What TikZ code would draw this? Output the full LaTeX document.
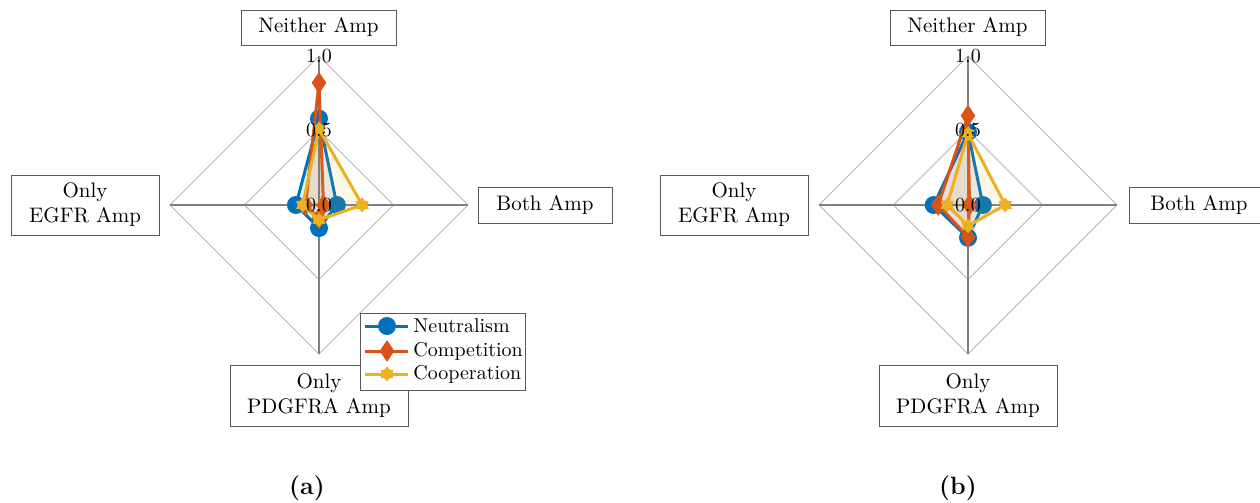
\documentclass[tikz,border=0pt]{standalone}
\usetikzlibrary{shapes.geometric}
\definecolor{mblue}{rgb}{0,0.447,0.741}
\definecolor{morange}{rgb}{0.85,0.325,0.098}
\definecolor{myellow}{rgb}{0.929,0.694,0.125}
\tikzset{
  gridline/.style={draw=black!28, line width=0.5pt},
  axisline/.style={draw=black!50, line width=1pt},
  labelbox/.style={draw=black!65, line width=0.5pt, fill=white, align=center,
    font=\fontsize{10.5}{12.5}\selectfont, inner sep=0pt},
  ticklabel/.style={font=\fontsize{10}{12}\selectfont, inner sep=0pt},
  series/.style={line width=1.5pt, line join=round},
  neutmark/.style={circle, fill=mblue, inner sep=0pt, minimum size=9pt},
  compmark/.style={diamond, fill=morange, inner sep=0pt, minimum width=7.5pt, minimum height=11pt},
  coopmark/.style={star, star points=6, star point ratio=1.5, fill=myellow, inner sep=0pt, minimum size=7.5pt},
  legtext/.style={font=\fontsize{10}{12}\selectfont, inner sep=0pt, anchor=west},
  captext/.style={font=\fontsize{12.5}{14}\selectfont\bfseries, inner sep=0pt},
}
% #1 prefix, #2 colour, #3 marker style, #4 top, #5 right, #6 bottom, #7 left
\newcommand{\radarseries}[7]{%
  \coordinate (#1t) at (0,-149*#4);
  \coordinate (#1r) at (149*#5,0);
  \coordinate (#1b) at (0,149*#6);
  \coordinate (#1l) at (-149*#7,0);
  \fill[#2, fill opacity=0.1] (#1t) -- (#1r) -- (#1b) -- (#1l) -- cycle;
  \draw[series, #2] (#1t) -- (#1r) -- (#1b) -- (#1l) -- cycle;
  \node[#3] (#1mt) at (#1t) {};
  \node[#3] (#1mr) at (#1r) {};
  \node[#3] (#1mb) at (#1b) {};
  \node[#3] (#1ml) at (#1l) {};
}
% #1 prefix
\newcommand{\radargrid}[1]{%
  \coordinate (#1c) at (0,0);
  \coordinate (#1T) at (0,-149);
  \coordinate (#1R) at (149,0);
  \coordinate (#1B) at (0,149);
  \coordinate (#1L) at (-149,0);
  \coordinate (#1Th) at (0,-74.5);
  \coordinate (#1Rh) at (74.5,0);
  \coordinate (#1Bh) at (0,74.5);
  \coordinate (#1Lh) at (-74.5,0);
  \draw[gridline] (#1Th) -- (#1Rh) -- (#1Bh) -- (#1Lh) -- cycle;
  \draw[gridline] (#1T) -- (#1R) -- (#1B) -- (#1L) -- cycle;
  \draw[axisline] (#1c) -- (#1T);
  \draw[axisline] (#1c) -- (#1R);
  \draw[axisline] (#1c) -- (#1B);
  \draw[axisline] (#1c) -- (#1L);
}
\newcommand{\radarticks}[1]{%
  \node[ticklabel] (#1k1) at (#1T) {1.0};
  \node[ticklabel] (#1k5) at (#1Th) {0.5};
  \node[ticklabel] (#1k0) at (#1c) {0.0};
}
% #1 prefix, #2 centre x of right box, #3 its width
\newcommand{\radarlabels}[3]{%
  \node[labelbox, minimum width=77.5pt, minimum height=17.5pt] (#1neither) at (-0.5,-177.5) {Neither Amp};
  \node[labelbox, minimum width=#3, minimum height=18pt] (#1both) at (#2,0) {Both Amp};
  \node[labelbox, minimum width=74pt, minimum height=30pt] (#1egfr) at (-234,0) {Only\\EGFR Amp};
  \node[labelbox, minimum width=89pt, minimum height=30.5pt] (#1pdgfra) at (0,190.5) {Only\\PDGFRA Amp};
}
\begin{document}
\begin{tikzpicture}[x=0.5pt, y=-0.5pt]
\useasboundingbox (0,0) rectangle (1260,503);
\clip (0,0) rectangle (1260,503);
\fill[white] (0,0) rectangle (1260,503);

% ---------------- panel (a)
\begin{scope}[shift={(319,205)}]
  \radargrid{a}
  \radarseries{aN}{mblue}{neutmark}{0.58}{0.12}{0.155}{0.155}
  \radarseries{aC}{morange}{compmark}{0.82}{0.03}{0.09}{0.09}
  \radarseries{aO}{myellow}{coopmark}{0.51}{0.29}{0.10}{0.11}
  \radarticks{a}
  \radarlabels{a}{226}{67pt}
  % legend
  \node[draw=black!65, line width=0.5pt, fill=white, inner sep=0pt,
        minimum width=82.5pt, minimum height=38.5pt] (aleg) at (123.5,146.5) {};
  \coordinate (al1a) at (46,121); \coordinate (al1b) at (89,121);
  \coordinate (al2a) at (46,146); \coordinate (al2b) at (89,146);
  \coordinate (al3a) at (46,169); \coordinate (al3b) at (89,169);
  \draw[series, mblue] (al1a) -- (al1b);
  \draw[series, morange] (al2a) -- (al2b);
  \draw[series, myellow] (al3a) -- (al3b);
  \node[neutmark] (alm1) at (68,121) {};
  \node[compmark] (alm2) at (68,146) {};
  \node[coopmark] (alm3) at (68,169) {};
  \node[legtext] (alt1) at (94,121) {Neutralism};
  \node[legtext] (alt2) at (94,146) {Competition};
  \node[legtext] (alt3) at (94,169) {Cooperation};
\end{scope}

% ---------------- panel (b)
\begin{scope}[shift={(968,205)}]
  \radargrid{b}
  \radarseries{bN}{mblue}{neutmark}{0.49}{0.10}{0.22}{0.23}
  \radarseries{bC}{morange}{compmark}{0.60}{0.01}{0.215}{0.20}
  \radarseries{bO}{myellow}{coopmark}{0.48}{0.25}{0.14}{0.14}
  \radarticks{b}
  \radarlabels{b}{231}{70pt}
\end{scope}

\node[captext] (capa) at (307,488) {(a)};
\node[captext] (capb) at (958,488) {(b)};
\end{tikzpicture}
\end{document}
